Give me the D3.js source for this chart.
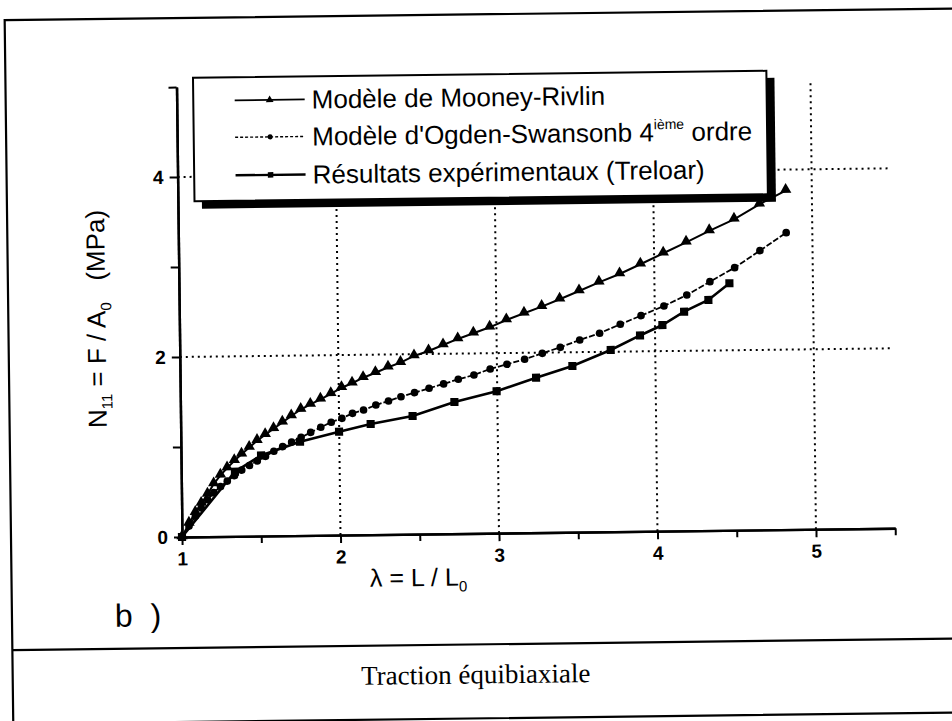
<!DOCTYPE html>
<html>
<head>
<meta charset="utf-8">
<script src="https://cdn.jsdelivr.net/npm/d3@7"></script>
<style>
  body { margin: 0; background: #fff; }
  svg { display: block; }
  text { fill: #000; }
</style>
</head>
<body>
<svg id="chart" width="952" height="721"></svg>
<script>
// Stretch ratio λ at which both hyperelastic models are evaluated
const modelStretch = [1.000, 1.045, 1.086, 1.124, 1.164, 1.204, 1.247, 1.290, 1.336, 1.382,
  1.431, 1.481, 1.533, 1.586, 1.642, 1.699, 1.759, 1.820, 1.884, 1.950,
  2.018, 2.085, 2.155, 2.233, 2.313, 2.392, 2.478, 2.570, 2.662, 2.755,
  2.854, 2.957, 3.063, 3.175, 3.287, 3.401, 3.524, 3.650, 3.781, 3.913,
  4.058, 4.203, 4.350, 4.507, 4.668, 4.835];

// Nominal stress N11 (MPa), Mooney-Rivlin model
const mooneyRivlin = [0, 0.15, 0.27, 0.37, 0.47, 0.585, 0.68, 0.76, 0.84, 0.91,
  0.985, 1.06, 1.125, 1.19, 1.26, 1.33, 1.40, 1.455, 1.51, 1.57,
  1.637, 1.685, 1.745, 1.799, 1.858, 1.907, 1.980, 2.033, 2.098, 2.163,
  2.224, 2.288, 2.367, 2.439, 2.510, 2.590, 2.679, 2.773, 2.863, 2.968,
  3.087, 3.206, 3.329, 3.455, 3.618, 3.766];

// Nominal stress N11 (MPa), 4th order Ogden model
const ogdenSwanson = [0, 0.12, 0.23, 0.32, 0.41, 0.49, 0.555, 0.615, 0.675, 0.735,
  0.785, 0.835, 0.885, 0.94, 0.99, 1.04, 1.09, 1.145, 1.20, 1.255,
  1.297, 1.351, 1.386, 1.440, 1.483, 1.529, 1.572, 1.619, 1.665, 1.715,
  1.760, 1.825, 1.875, 1.928, 1.992, 2.056, 2.135, 2.207, 2.304, 2.397,
  2.501, 2.620, 2.765, 2.917, 3.103, 3.299];

// Treloar's equibiaxial test data
const treloarStretch = [1.000, 1.339, 1.505, 1.752, 1.999, 2.199, 2.464, 2.729, 2.996,
  3.246, 3.476, 3.719, 3.905, 4.047, 4.185, 4.339, 4.473];
const treloarStress = [0, 0.718, 0.895, 1.043, 1.149, 1.230, 1.313, 1.463, 1.577,
  1.722, 1.847, 2.020, 2.177, 2.290, 2.435, 2.562, 2.745];

const xMajorTicks = [1, 2, 3, 4, 5];
const xMinorTicks = [1.5, 2.5, 3.5, 4.5, 5.5];
const yMajorTicks = [0, 2, 4];
const yMinorTicks = [1, 3, 5];
const xGridValues = [2, 3, 4, 5];
const yGridValues = [2, 4];

const legendLabels = ["Modèle de Mooney-Rivlin", "Modèle d'Ogden-Swansonb 4", "Résultats expérimentaux (Treloar)"];
const captionText = "Traction équibiaxiale";

const svg = d3.select("#chart");
// the whole sheet sits slightly tilted
const sheet = svg.append("g").attr("transform", "rotate(-0.7, 182, 537)");

const x = d3.scaleLinear().domain([1, 5.5]).range([182, 895.25]);
const y = d3.scaleLinear().domain([0, 5]).range([537, 87]);

const sans = "'Liberation Sans', Arial, Helvetica, sans-serif";

// outer frame and caption band
sheet.append("rect").attr("x", 11).attr("y", 18).attr("width", 960).attr("height", 704)
  .attr("fill", "none").attr("stroke", "#000").attr("stroke-width", 2.2);
sheet.append("line").attr("x1", 11).attr("x2", 975).attr("y1", 648).attr("y2", 648)
  .attr("stroke", "#000").attr("stroke-width", 2.2);
sheet.append("text").attr("x", 474).attr("y", 687).attr("text-anchor", "middle")
  .style("font-family", "'Liberation Serif', 'Times New Roman', serif").style("font-size", "27px")
  .text(captionText);

// dotted grid
const grid = sheet.append("g").attr("stroke", "#000").attr("stroke-width", 2).attr("stroke-dasharray", "2,4");
grid.selectAll("line.v").data(xGridValues).join("line").attr("class", "v")
  .attr("x1", d => x(d)).attr("x2", d => x(d)).attr("y1", y(0)).attr("y2", y(5) + 3);
grid.selectAll("line.h").data(yGridValues).join("line").attr("class", "h")
  .attr("x1", x(1)).attr("x2", x(5.5)).attr("y1", d => y(d)).attr("y2", d => y(d));

// axes
const xAxis = sheet.append("g").attr("transform", `translate(0,${y(0)})`)
  .call(d3.axisBottom(x).tickValues(xMajorTicks).tickSize(8).tickSizeOuter(0).tickPadding(7).tickFormat(d3.format("d")));
const xMinor = sheet.append("g").attr("transform", `translate(0,${y(0)})`)
  .call(d3.axisBottom(x).tickValues(xMinorTicks).tickSize(7).tickSizeOuter(0).tickFormat(""));
const yAxis = sheet.append("g").attr("transform", `translate(${x(1)},0)`)
  .call(d3.axisLeft(y).tickValues(yMajorTicks).tickSize(8).tickSizeOuter(0).tickPadding(6).tickFormat(d3.format("d")));
const yMinor = sheet.append("g").attr("transform", `translate(${x(1)},0)`)
  .call(d3.axisLeft(y).tickValues(yMinorTicks).tickSize(8).tickSizeOuter(0).tickFormat(""));
[xAxis, xMinor, yAxis, yMinor].forEach(g => {
  g.attr("font-size", null).attr("font-family", null);
  g.select(".domain").attr("stroke", "#000").attr("stroke-width", 2.4);
  g.selectAll(".tick line").attr("stroke", "#000").attr("stroke-width", 2);
  g.selectAll(".tick text").attr("font-family", sans).attr("font-size", 19).attr("font-weight", "bold").attr("fill", "#000");
});

// axis titles
const title = sheet.append("g").style("font-family", sans);
const xt = title.append("text").attr("x", 418).attr("y", 589).attr("text-anchor", "middle").style("font-size", "25px");
xt.append("tspan").text("λ = L / L");
xt.append("tspan").attr("dy", 6).style("font-size", "15px").text("0");

const yt = title.append("text").attr("transform", "translate(108,318) rotate(-90)").attr("text-anchor", "middle").style("font-size", "26px");
yt.append("tspan").text("N");
yt.append("tspan").attr("dy", 6).style("font-size", "15px").text("11");
yt.append("tspan").attr("dy", -6).text(" = F / A");
yt.append("tspan").attr("dy", 6).style("font-size", "15px").text("0");
yt.append("tspan").attr("dy", -6).attr("xml:space", "preserve").text("   (MPa)");

title.append("text").attr("x", 114).attr("y", 626).attr("xml:space", "preserve").style("font-size", "32px").text("b  )");

// series
const line = d3.line().x(d => x(d[0])).y(d => y(d[1]));
const mrPts = modelStretch.map((l, i) => [l, mooneyRivlin[i]]);
const ogPts = modelStretch.map((l, i) => [l, ogdenSwanson[i]]);
const trPts = treloarStretch.map((l, i) => [l, treloarStress[i]]);

const tri = d3.symbol().type(d3.symbolTriangle).size(56);
const circ = d3.symbol().type(d3.symbolCircle).size(46);
const sq = d3.symbol().type(d3.symbolSquare).size(66);

const plot = sheet.append("g");
plot.append("path").attr("d", line(mrPts)).attr("fill", "none").attr("stroke", "#000").attr("stroke-width", 2);
plot.append("path").attr("d", line(ogPts)).attr("fill", "none").attr("stroke", "#000").attr("stroke-width", 1.8).attr("stroke-dasharray", "6,2");
plot.append("path").attr("d", line(trPts)).attr("fill", "none").attr("stroke", "#000").attr("stroke-width", 2.6);
plot.selectAll("path.mr").data(mrPts).join("path").attr("class", "mr")
  .attr("transform", d => `translate(${x(d[0])},${y(d[1]) - 1})`).attr("d", tri).attr("fill", "#000");
plot.selectAll("path.og").data(ogPts).join("path").attr("class", "og")
  .attr("transform", d => `translate(${x(d[0])},${y(d[1])})`).attr("d", circ).attr("fill", "#000");
plot.selectAll("path.tr").data(trPts).join("path").attr("class", "tr")
  .attr("transform", d => `translate(${x(d[0])},${y(d[1])})`).attr("d", sq).attr("fill", "#000");

// legend box with drop shadow
const lg = sheet.append("g");
lg.append("rect").attr("x", 206).attr("y", 85).attr("width", 574).attr("height", 124).attr("fill", "#000");
lg.append("rect").attr("x", 198.6).attr("y", 78).attr("width", 573.4).attr("height", 123.5)
  .attr("fill", "#fff").attr("stroke", "#000").attr("stroke-width", 2);
const rowsY = [101, 138, 176];
const legendSymbols = [d3.symbol().type(d3.symbolTriangle).size(26), d3.symbol().type(d3.symbolCircle).size(20), d3.symbol().type(d3.symbolSquare).size(30)];
const legendDash = [null, "3,2", null];
const legendWidth = [1.8, 1.4, 2.4];
legendLabels.forEach((lab, i) => {
  lg.append("line").attr("x1", 240).attr("x2", 310).attr("y1", rowsY[i]).attr("y2", rowsY[i])
    .attr("stroke", "#000").attr("stroke-width", legendWidth[i]).attr("stroke-dasharray", legendDash[i]);
  lg.append("path").attr("transform", `translate(275,${rowsY[i]})`).attr("d", legendSymbols[i]).attr("fill", "#000");
  const t = lg.append("text").attr("x", 317).attr("y", rowsY[i] + 9).style("font-family", sans).style("font-size", "26px").text(lab);
  if (i === 1) {
    t.append("tspan").attr("dy", -12).style("font-size", "14px").text("ième");
    t.append("tspan").attr("dy", 12).text(" ordre");
  }
});
</script>
</body>
</html>
